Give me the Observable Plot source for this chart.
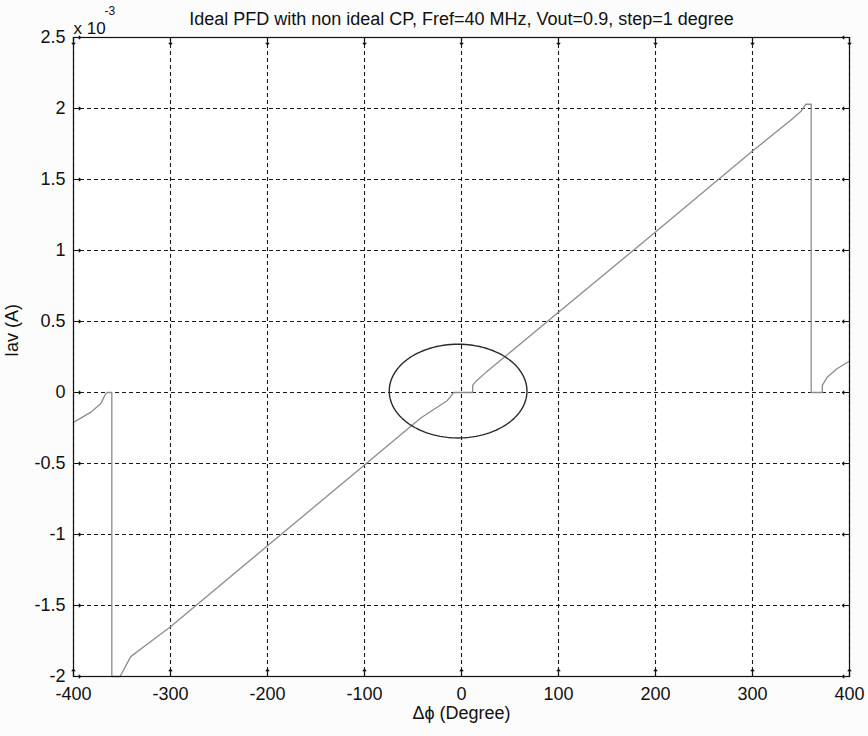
<!DOCTYPE html>
<html>
<head>
<meta charset="utf-8">
<script src="https://cdn.jsdelivr.net/npm/d3@7"></script>
<script src="https://cdn.jsdelivr.net/npm/@observablehq/plot@0.6"></script>
<style>
  html, body { margin: 0; padding: 0; background: #fcfcfc; }
  #chart svg { display: block; }
</style>
</head>
<body>
<div id="chart"></div>
<script>
// ---- data ----
const chartTitle = "Ideal PFD with non ideal CP, Fref=40 MHz, Vout=0.9, step=1 degree";
const xLabel = "Δϕ (Degree)";
const yLabel = "Iav (A)";
const yExponentBase = "x 10";
const yExponent = "-3";

const xTicks = [-400, -300, -200, -100, 0, 100, 200, 300, 400];
const yTicks = [-2, -1.5, -1, -0.5, 0, 0.5, 1, 1.5, 2, 2.5];

// phase difference (degree)
const phase = [-400, -382.5, -372, -367, -365, -360.5, -360.5, -352, -341, -327.5, -300, -200, -100, -42, -14.5, -8,
               11.5, 11.5, 15, 25, 40, 100, 200, 300, 340, 350, 355, 360.5, 360.5, 372, 372, 377, 387, 398, 400];
// average current (x 1e-3 A)
const current = [-0.21, -0.14, -0.08, -0.01, 0, 0, -2, -2, -1.86, -1.79, -1.65, -1.08, -0.51, -0.18, -0.056, 0,
                 0, 0.05, 0.08, 0.14, 0.225, 0.565, 1.13, 1.70, 1.92, 1.98, 2.03, 2.03, 0, 0, 0.05, 0.108, 0.167, 0.213, 0.22];

// annotation ellipse: center (deg, x1e-3 A) and radii
const ellipseCenter = [-3.5, 0.01];
const ellipseRadii = [71, 0.33];

// ---- build ----
const curve = phase.map((p, i) => ({p, c: current[i]}));
const ellipsePts = d3.range(0, 361, 3).map(a => {
  const t = a * Math.PI / 180;
  return {p: ellipseCenter[0] + ellipseRadii[0] * Math.cos(t), c: ellipseCenter[1] + ellipseRadii[1] * Math.sin(t)};
});

const font = "'Liberation Sans', Arial, sans-serif";
const ink = "#111";
const tickLen = 7;
const fmt = d => String(d);

const plot = Plot.plot({
  width: 868,
  height: 736,
  marginTop: 37,
  marginRight: 19,
  marginBottom: 60,
  marginLeft: 73,
  x: {domain: [-400, 400]},
  y: {domain: [-2, 2.5]},
  style: {fontFamily: font, fontSize: "18px", color: ink, background: "#fcfcfc", overflow: "visible"},
  marks: [
    Plot.frame({fill: "#ffffff", stroke: "none"}),
    Plot.gridX(xTicks, {stroke: "#1a1a1a", strokeOpacity: 1, strokeWidth: 1.1, strokeDasharray: "4,3"}),
    Plot.gridY(yTicks, {stroke: "#1a1a1a", strokeOpacity: 1, strokeWidth: 1.1, strokeDasharray: "4,3"}),
    Plot.line(curve, {x: "p", y: "c", stroke: "#8c8c8c", strokeWidth: 1.3}),
    Plot.line(ellipsePts, {x: "p", y: "c", stroke: "#2a2a2a", strokeWidth: 1.4}),
    Plot.frame({stroke: "#111", strokeWidth: 1.2}),
    // inward ticks
    Plot.vector(xTicks, {x: d => d, frameAnchor: "bottom", length: tickLen, rotate: 0, anchor: "start", stroke: "#111", strokeWidth: 1.2}),
    Plot.vector(xTicks, {x: d => d, frameAnchor: "top", length: tickLen, rotate: 180, anchor: "start", stroke: "#111", strokeWidth: 1.2}),
    Plot.vector(yTicks, {y: d => d, frameAnchor: "left", length: tickLen, rotate: 90, anchor: "start", stroke: "#111", strokeWidth: 1.2}),
    Plot.vector(yTicks, {y: d => d, frameAnchor: "right", length: tickLen, rotate: -90, anchor: "start", stroke: "#111", strokeWidth: 1.2}),
    Plot.axisX(xTicks, {tickSize: 0, tickPadding: 11, tickFormat: fmt, label: null, fontSize: 18}),
    Plot.axisY(yTicks, {tickSize: 0, tickPadding: 8, tickFormat: fmt, label: null, fontSize: 18}),
    // texts
    Plot.text([chartTitle], {frameAnchor: "top", dy: -25, text: d => d, fontSize: 18, fill: ink}),
    Plot.text([yExponentBase], {frameAnchor: "top-left", dx: 0, dy: -16, text: d => d, textAnchor: "start", fontSize: 17, fill: ink}),
    Plot.text([yExponent], {frameAnchor: "top-left", dx: 31, dy: -31, text: d => d, textAnchor: "start", fontSize: 12, fill: ink}),
    Plot.text([xLabel], {frameAnchor: "bottom", dy: 42, text: d => d, fontSize: 18, fill: ink}),
    Plot.text([yLabel], {frameAnchor: "left", dx: -61, rotate: -90, text: d => d, fontSize: 18, fill: ink})
  ]
});
document.getElementById("chart").appendChild(plot);
</script>
</body>
</html>
